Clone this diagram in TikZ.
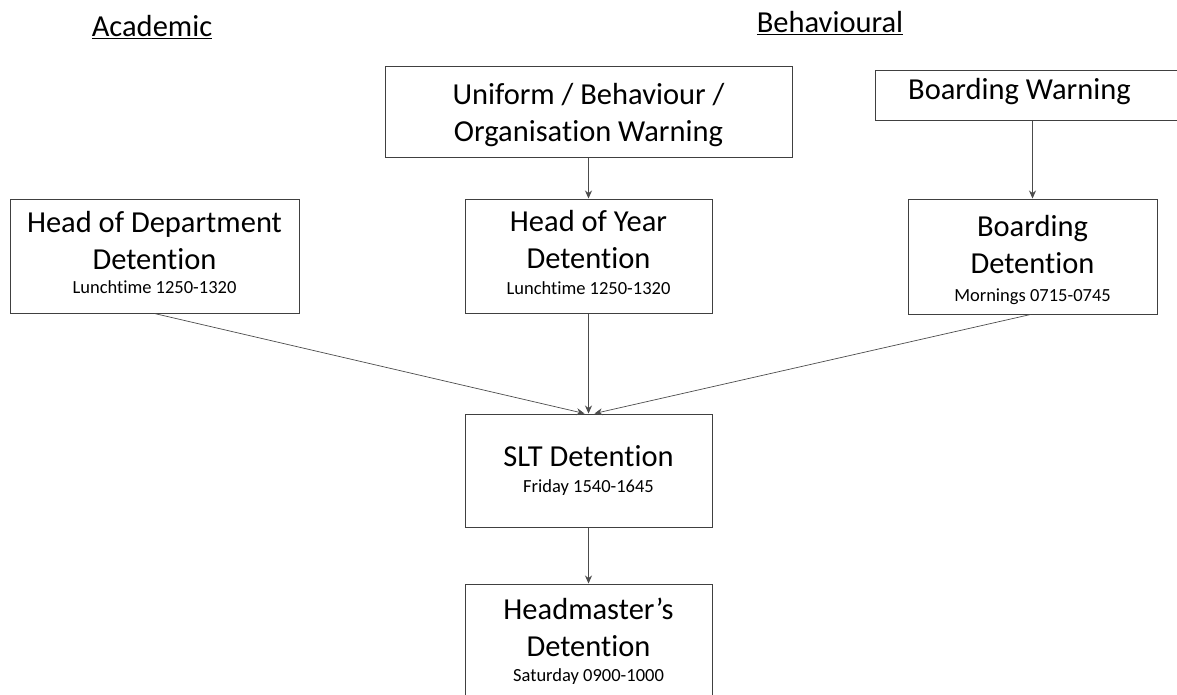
\documentclass[tikz,border=0pt]{standalone}
\usepackage{fontspec}
\setmainfont{Carlito}[Ligatures=NoCommon]
\usetikzlibrary{positioning, arrows.meta}
\newcommand{\bigtxt}{\fontsize{30.5}{37}\selectfont}
\newcommand{\smalltxt}{\fontsize{18.5}{22}\selectfont}

\begin{document}
\begin{tikzpicture}[x=1pt, y=-1pt,
                    box/.style={shape=rectangle, draw=black!75, line width=1pt, align=center, inner sep=0pt, font=\bigtxt},
                    head/.style={font=\fontsize{30.5}{34}\selectfont},
                    arr/.style={->, >={Stealth[length=8pt, width=7pt]}, draw=black!70, line width=0.7pt}]
        \useasboundingbox (0,0) rectangle (1177,694);
        % headings
        \node[head] (acad) at (152,27) {\underline{Academic}};
        \node[head] (behav) at (830,23) {\underline{Behavioural}};
        % warnings
        \node[box, minimum width=407pt, minimum height=91pt] (uni) at (588.5,111.5) {\mbox{}\\[-8pt]Uniform / Behaviour /\\Organisation Warning};
        \node[box, minimum width=315pt, minimum height=50pt] (bw) at (1032.5,95) {};
        \node[font=\bigtxt, anchor=west, inner sep=0pt] (bwt) at (908,92) {Boarding Warning};
        % detentions
        \node[box, minimum width=289pt, minimum height=114pt] (hod) at (154.5,256) {Head of Department\\Detention\\[-13pt]{\smalltxt Lunchtime 1250-1320}\\[-29pt]\mbox{}};
        \node[box, minimum width=247pt, minimum height=114pt] (hoy) at (588.5,256) {Head of Year\\Detention\\[-11pt]{\smalltxt Lunchtime 1250-1320}\\[-30pt]\mbox{}};
        \node[box, minimum width=249pt, minimum height=115pt] (bd) at (1032.5,256.5) {\mbox{}\\[-8pt]Boarding\\Detention\\[-9pt]{\smalltxt Mornings 0715-0745}};
        \node[box, minimum width=247pt, minimum height=113pt] (slt) at (588.5,470.5) {SLT Detention\\[-11pt]{\smalltxt Friday 1540-1645}};
        \node[box, minimum width=247pt, minimum height=114pt] (hm) at (588.5,641) {Headmaster’s\\Detention\\[-12pt]{\smalltxt Saturday 0900-1000}};
        % arrows
        \draw[arr] (uni) -- (hoy);
        \draw[arr] (bw.south -| bd.north) -- (bd);
        \draw[arr] (hod.south) -- ([xshift=-4pt]slt.north);
        \draw[arr] (hoy) -- (slt);
        \draw[arr] ([xshift=-2pt]bd.south) -- ([xshift=6pt]slt.north);
        \draw[arr] (slt) -- (hm);
    \end{tikzpicture}
\end{document}
